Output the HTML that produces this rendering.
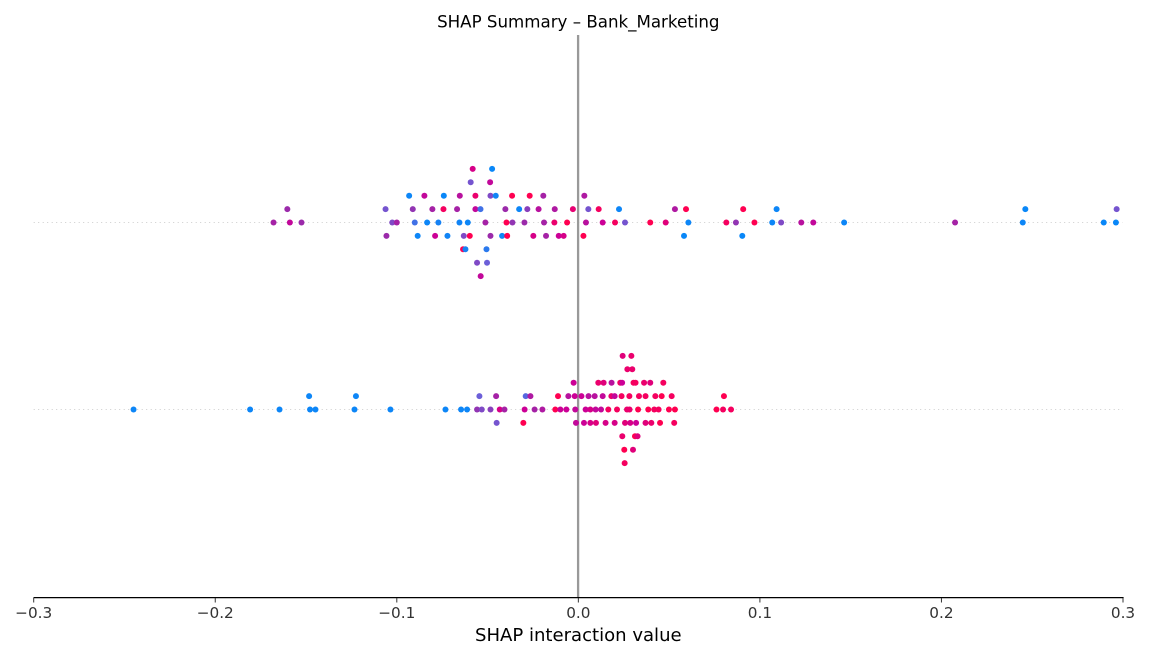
<!DOCTYPE html>
<html lang="en">
<head>
<meta charset="utf-8">
<title>SHAP Summary – Bank_Marketing</title>
<style>
html,body{margin:0;padding:0;background:#fff;width:1150px;height:660px;overflow:hidden}
svg{display:block}
text{font-family:"DejaVu Sans","Liberation Sans",sans-serif}
</style>
</head>
<body>
<svg id="chart" xmlns="http://www.w3.org/2000/svg" width="1150" height="660" viewBox="0 0 1150 660">
  <text x="578.3" y="27.5" text-anchor="middle" font-size="16.67" fill="#000">SHAP Summary – Bank_Marketing</text>
  <g id="rows"></g>
  <line x1="578.1" y1="35" x2="578.1" y2="597" stroke="#999999" stroke-width="2.3"></line>
  <g id="points"></g>
  <line x1="33.5" y1="597.6" x2="1123.6" y2="597.6" stroke="#000" stroke-width="1.3"></line>
  <g id="ticks"></g>
  <text x="578.3" y="641" text-anchor="middle" font-size="18.06" fill="#000">SHAP interaction value</text>
</svg>
<script>
const tickValues = [-0.3, -0.2, -0.1, 0, 0.1, 0.2, 0.3];
const tickLabels = ["\u22120.3", "\u22120.2", "\u22120.1", "0.0", "0.1", "0.2", "0.3"];

const topShap = [
  -.0582,-.0475,-.0593,-.0486,
  -.0932,-.0848,-.0741,-.0653,-.0567,-.0484,-.0455,-.0365,-.0268,-.0193,.0033,
  -.1603,-.1062,-.0912,-.0804,-.0743,-.0668,-.0567,-.0539,-.0402,-.0326,-.0281,-.0219,-.0130,-.0030,.0055,.0112,.0224,.0532,.0593,.0908,.1092,.2462,.2965,
  -.1679,-.1589,-.1525,-.1025,-.1000,-.0901,-.0833,-.0771,-.0655,-.0609,-.0512,-.0396,-.0363,-.0297,-.0189,-.0132,-.0062,.0042,.0134,.0202,.0257,.0396,.0481,.0606,.0815,.0868,.0970,.1068,.1117,.1228,.1294,.1464,.2075,.2448,.2894,.2961,
  -.1057,-.0885,-.0789,-.0721,-.0631,-.0598,-.0484,-.0420,-.0392,-.0248,-.0178,-.0108,-.0081,.0028,.0582,.0903,
  -.0635,-.0622,-.0506,
  -.0558,-.0503,
  -.0538
];
const topStack = [
  4,4,3,3,
  2,2,2,2,2,2,2,2,2,2,2,
  1,1,1,1,1,1,1,1,1,1,1,1,1,1,1,1,1,1,1,1,1,1,1,
  0,0,0,0,0,0,0,0,0,0,0,0,0,0,0,0,0,0,0,0,0,0,0,0,0,0,0,0,0,0,0,0,0,0,0,0,
  -1,-1,-1,-1,-1,-1,-1,-1,-1,-1,-1,-1,-1,-1,-1,-1,
  -2,-2,-2,
  -3,-3,
  -4
];
const topFeature = [
  .8,.02,.3,.7,
  .03,.7,.02,.65,.9,.35,.04,1,1,.55,.6,
  .5,.3,.45,.55,.95,.55,.7,.15,.5,.03,.4,.65,.6,.88,.3,.95,.03,.6,1,1,.03,.02,.3,
  .55,.7,.5,.35,.55,.15,.03,.05,.04,.03,.55,1,.45,.5,.55,.9,1,.65,.75,.95,.3,1,.85,.03,.95,.45,1,.03,.35,.65,.7,.03,.55,.03,.02,.02,
  .5,.03,.75,.04,.35,1,.5,.03,1,.8,.55,.75,.8,1,.02,.02,
  1,.05,.1,
  .35,.25,
  .7
];

const bottomShap = [
  .0244,.0292,.0270,.0297,
  -.0026,.0110,.0139,.0183,.0231,.0241,.0304,.0315,.0362,.0396,.0468,
  -.1483,-.1225,-.0545,-.0453,-.0290,-.0264,-.0112,-.0055,-.0020,.0017,.0056,.0090,.0134,.0182,.0200,.0238,.0281,.0334,.0370,.0424,.0459,.0514,.0802,
  -.2450,-.1808,-.1646,-.1478,-.1448,-.1233,-.1035,-.0732,-.0646,-.0613,-.0558,-.0532,-.0484,-.0433,-.0407,-.0296,-.0241,-.0198,-.0127,-.0099,-.0066,-.0017,.0040,.0066,.0095,.0125,.0165,.0213,.0268,.0282,.0329,.0385,.0418,.0442,.0499,.0532,.0761,.0797,.0841,
  -.0450,-.0303,-.0013,.0031,.0066,.0097,.0150,.0200,.0257,.0286,.0318,.0370,.0402,.0450,.0528,
  .0242,.0312,.0326,
  .0253,.0301,
  .0255
];
const bottomStack = [
  4,4,3,3,
  2,2,2,2,2,2,2,2,2,2,2,
  1,1,1,1,1,1,1,1,1,1,1,1,1,1,1,1,1,1,1,1,1,1,1,
  0,0,0,0,0,0,0,0,0,0,0,0,0,0,0,0,0,0,0,0,0,0,0,0,0,0,0,0,0,0,0,0,0,0,0,0,0,0,0,
  -1,-1,-1,-1,-1,-1,-1,-1,-1,-1,-1,-1,-1,-1,-1,
  -2,-2,-2,
  -3,-3,
  -4
];
const bottomFeature = [
  .85,.9,.9,.9,
  .75,.9,.85,.65,.95,.75,.95,.95,.9,.85,.95,
  .03,.03,.25,.55,.2,.6,1,.65,.75,.75,.65,.65,.7,.9,.7,.95,.95,.95,.95,.95,1,.95,1,
  .03,.03,.03,.03,.03,.03,.03,.03,.03,.03,.45,.35,.4,.8,.55,.75,.55,.6,1,.75,.75,.7,.75,.8,.7,.7,.95,.95,.9,.9,1,1,.95,.95,1,1,1,.95,.95,
  .3,1,.7,.75,.8,.85,.8,.8,.85,.8,.75,.85,.9,1,.95,
  .9,1,.85,
  1,.85,
  .95
];

const svgNS = "http://www.w3.org/2000/svg";
const plotLeft = 33.7, plotRight = 1123, domainMin = -0.3, domainMax = 0.3;
const topRowY = 222.5, bottomRowY = 409.5, stackStep = 13.4;

function xScale(v) { return plotLeft + (v - domainMin) / (domainMax - domainMin) * (plotRight - plotLeft); }
function yScale(rowY, stack) { return rowY - stack * stackStep; }

const colorStops = [[0,[0,139,251]],[.25,[108,95,216]],[.5,[155,42,170]],[.75,[204,0,150]],[1,[255,0,81]]];
function colorOf(t) {
  for (let i = 1; i < colorStops.length; i++) {
    if (t <= colorStops[i][0]) {
      const a = colorStops[i-1], b = colorStops[i], f = (t - a[0]) / (b[0] - a[0]);
      const c = a[1].map((ch, k) => Math.round(ch + (b[1][k] - ch) * f));
      return "rgb(" + c.join(",") + ")";
    }
  }
  return "rgb(255,0,81)";
}

const rowsGroup = document.getElementById("rows");
[topRowY, bottomRowY].forEach(function (y) {
  const guide = document.createElementNS(svgNS, "line");
  
  
  guide.setAttribute("x1", xScale(domainMin));
  guide.setAttribute("x2", xScale(domainMax));
  guide.setAttribute("y1", y);
  guide.setAttribute("y2", y);
  guide.setAttribute("stroke", "#cccccc");
  guide.setAttribute("stroke-width", "1");
  guide.setAttribute("stroke-dasharray", "1 3.5");
  rowsGroup.appendChild(guide);
});

const pointsGroup = document.getElementById("points");
function drawRow(rowY, shap, stack, feature) {
  shap.forEach(function (v, i) {
    const dot = document.createElementNS(svgNS, "circle");
    
    
    dot.setAttribute("cx", xScale(v).toFixed(2));
    dot.setAttribute("cy", yScale(rowY, stack[i]).toFixed(2));
    dot.setAttribute("r", "3");
    dot.setAttribute("fill", colorOf(feature[i]));
    pointsGroup.appendChild(dot);
  });
}
drawRow(topRowY, topShap, topStack, topFeature);
drawRow(bottomRowY, bottomShap, bottomStack, bottomFeature);

const ticksGroup = document.getElementById("ticks");
tickValues.forEach(function (v, i) {
  const mark = document.createElementNS(svgNS, "line");
  
  
  mark.setAttribute("x1", xScale(v));
  mark.setAttribute("x2", xScale(v));
  mark.setAttribute("y1", 598);
  mark.setAttribute("y2", 602.5);
  mark.setAttribute("stroke", "#333333");
  mark.setAttribute("stroke-width", "1");
  ticksGroup.appendChild(mark);
  const label = document.createElementNS(svgNS, "text");
  
  
  label.setAttribute("x", xScale(v));
  label.setAttribute("y", 618);
  label.setAttribute("text-anchor", "middle");
  label.setAttribute("font-size", "15.28");
  label.setAttribute("fill", "#333333");
  label.textContent = tickLabels[i];
  ticksGroup.appendChild(label);
});
</script>
</body>
</html>
